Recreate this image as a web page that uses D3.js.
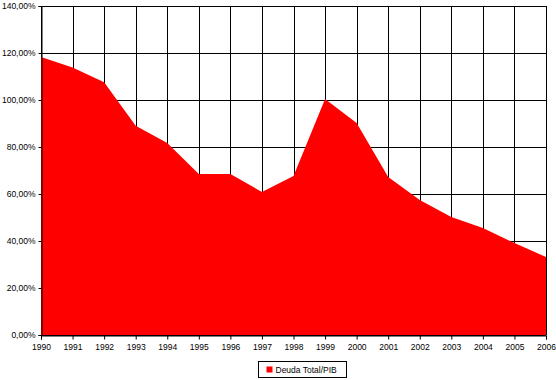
<!DOCTYPE html>
<html>
<head>
<meta charset="utf-8">
<script src="https://cdn.jsdelivr.net/npm/d3@7"></script>
<style>
  body { margin: 0; background: #fff; }
  svg { display: block; }
  text { font-family: Arial, "Liberation Sans", sans-serif; }
</style>
</head>
<body>
<svg id="chart" width="556" height="380"></svg>
<script>
const years = [1990, 1991, 1992, 1993, 1994, 1995, 1996, 1997, 1998, 1999, 2000, 2001, 2002, 2003, 2004, 2005, 2006];
const debtRatio = [118.3, 113.8, 107.6, 89.0, 81.7, 68.5, 68.5, 60.9, 67.7, 100.4, 90.2, 67.2, 57.4, 50.2, 45.5, 39.1, 33.2];
const yTicks = [0, 20, 40, 60, 80, 100, 120, 140];
const seriesName = 'Deuda Total/PIB';

const margin = { left: 41, right: 10, top: 6, bottom: 45 };
const width = 556, height = 380;

const svg = d3.select('#chart');

const x = d3.scaleLinear()
  .domain([years[0], years[years.length - 1]])
  .range([margin.left, width - margin.right]);

const y = d3.scaleLinear()
  .domain([0, 140])
  .range([height - margin.bottom, margin.top]);

const fmt = v => d3.format('.2f')(v).replace('.', ',') + '%';

// grid
svg.append('g')
  .selectAll('line')
  .data(yTicks)
  .enter()
  .append('line')
  .attr('x1', x.range()[0])
  .attr('x2', x.range()[1])
  .attr('y1', d => Math.round(y(d)) + 0.5)
  .attr('y2', d => Math.round(y(d)) + 0.5)
  .attr('stroke', '#000');

svg.append('g')
  .selectAll('line')
  .data(years)
  .enter()
  .append('line')
  .attr('x1', d => Math.round(x(d)) + 0.5)
  .attr('x2', d => Math.round(x(d)) + 0.5)
  .attr('y1', y.range()[0])
  .attr('y2', y.range()[1])
  .attr('stroke', '#000');

// area
const data = years.map((yr, i) => ({ year: yr, value: debtRatio[i] }));
const area = d3.area()
  .x(d => x(d.year))
  .y0(y(0))
  .y1(d => y(d.value));

svg.append('path')
  .datum(data)
  .attr('d', area)
  .attr('fill', '#ff0000');

// axes
const xAxis = d3.axisBottom(x)
  .tickValues(years)
  .tickFormat(d3.format('d'))
  .tickSize(4);

const yAxis = d3.axisLeft(y)
  .tickValues(yTicks)
  .tickFormat(fmt)
  .tickSize(3);

const gx = svg.append('g')
  .attr('transform', `translate(0,${Math.round(y(0)) + 0.5})`)
  .call(xAxis);
gx.select('.domain').attr('stroke', '#000');
gx.selectAll('.tick line').attr('stroke', '#000');
gx.selectAll('text')
  .attr('font-size', 8.5)
  .attr('fill', '#000')
  .attr('dy', '0.9em')
  .attr('font-family', 'Arial, "Liberation Sans", sans-serif');

const gy = svg.append('g')
  .attr('transform', `translate(${Math.round(x(years[0])) + 0.5},0)`)
  .call(yAxis);
gy.select('.domain').attr('stroke', '#000');
gy.selectAll('.tick line').attr('stroke', '#000');
gy.selectAll('text')
  .attr('font-size', 8.5)
  .attr('fill', '#000')
  .attr('x', -6)
  .attr('font-family', 'Arial, "Liberation Sans", sans-serif');

// legend
const legend = svg.append('g').attr('transform', 'translate(258.5,361.5)');
legend.append('rect')
  .attr('width', 88)
  .attr('height', 16)
  .attr('fill', '#fff')
  .attr('stroke', '#000');
legend.append('rect')
  .attr('x', 8)
  .attr('y', 5)
  .attr('width', 6)
  .attr('height', 6)
  .attr('fill', '#ff0000');
legend.append('text')
  .attr('x', 17)
  .attr('y', 11.5)
  .attr('font-size', 8.5)
  .attr('fill', '#000')
  .text(seriesName);
</script>
</body>
</html>
